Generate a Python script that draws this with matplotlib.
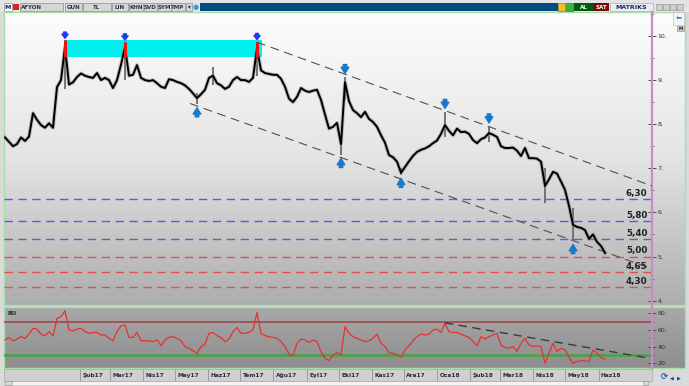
import matplotlib
matplotlib.use("Agg")
import matplotlib.pyplot as plt
import numpy as np
import pandas as pd
from matplotlib.colors import LinearSegmentedColormap
from matplotlib.patches import Rectangle

W, H = 689, 386

# price closes, one value every ~2.6 trading days
close = [7.70, 7.60, 7.50, 7.55, 7.70, 7.62, 7.72, 8.25, 8.10, 7.98,
         7.92, 8.02, 7.92, 8.84, 9.00, 9.75, 8.90, 8.95, 9.07, 9.15,
         9.10, 9.07, 9.05, 9.16, 9.00, 9.05, 9.00, 8.82, 9.00, 9.35,
         9.75, 9.10, 9.12, 9.34, 9.05, 9.00, 8.98, 9.00, 8.93, 8.85,
         8.82, 9.02, 9.00, 8.96, 8.93, 8.88, 8.80, 8.70, 8.59, 8.68,
         8.78, 9.05, 9.10, 8.93, 8.88, 8.80, 8.85, 9.00, 9.07, 9.00,
         9.00, 8.96, 9.05, 9.72, 9.22, 9.16, 9.14, 9.12, 9.12, 9.03,
         8.85, 8.58, 8.50, 8.62, 8.82, 8.76, 8.73, 8.76, 8.78, 8.55,
         8.22, 7.90, 7.94, 8.03, 7.55, 8.95, 8.52, 8.32, 8.25, 8.16,
         8.28, 8.12, 8.05, 7.94, 7.75, 7.58, 7.30, 7.25, 7.15, 6.90,
         7.03, 7.16, 7.28, 7.37, 7.42, 7.45, 7.50, 7.57, 7.63, 7.78,
         7.98, 7.85, 7.75, 7.90, 7.82, 7.83, 7.78, 7.64, 7.57, 7.66,
         7.70, 7.80, 7.76, 7.71, 7.50, 7.46, 7.46, 7.47, 7.40, 7.28,
         7.46, 7.23, 7.23, 7.22, 7.15, 6.60, 6.75, 6.92, 6.88, 6.70,
         6.51, 6.15, 5.72, 5.67, 5.65, 5.60, 5.40, 5.50, 5.33, 5.24,
         5.08]

rsi = [48, 51, 47, 49, 52, 50, 55, 62, 61, 55,
       53, 58, 53, 74, 76, 83, 60, 59, 61, 62,
       58, 56, 57, 57, 54, 54, 50, 47, 58, 65,
       66, 51, 51, 57, 47, 47, 47, 46, 48, 41,
       48, 51, 52, 50, 47, 40, 38, 35, 32, 40,
       43, 56, 57, 53, 51, 46, 49, 58, 63, 56,
       56, 57, 60, 81, 56, 53, 52, 51, 50, 46,
       40, 31, 29, 44, 49, 48, 45, 48, 46, 34,
       26, 23, 30, 33, 30, 64, 56, 52, 50, 48,
       46, 47, 50, 55, 44, 40, 33, 32, 30, 27,
       36, 41, 47, 52, 55, 54, 55, 60, 61, 57,
       68, 58, 57, 57, 55, 53, 51, 46, 41, 52,
       49, 52, 54, 56, 42, 39, 38, 40, 34, 44,
       50, 42, 40, 41, 40, 20, 32, 44, 34, 38,
       36, 27, 20, 22, 23, 23, 22, 36, 32, 27,
       25]

first_day, last_day = "2016-11-23", "2018-06-07"

# bars with visible wicks
wick_idx = [15, 30, 48, 52, 63, 84, 85, 99, 110, 121, 135, 142]
wick_lo = [8.80, 9.00, 8.45, 8.90, 9.10, 7.30, 8.55, 6.85, 7.70, 7.60, 6.21, 5.35]
wick_hi = [9.90, 9.86, 8.70, 9.30, 9.87, 7.70, 9.07, 7.00, 8.28, 7.95, 7.00, 6.10]

peak_idx = [15, 30, 63]
zone_lo, zone_hi = 9.52, 9.91
down_idx = [85, 110, 121]
up_idx = [48, 84, 99, 142]

blue_levels = [6.30, 5.80, 5.40]
red_levels = [5.00, 4.65, 4.30]

upper_x, upper_y = [63, 161.75], [9.86, 6.60]
lower_x, lower_y = [46.25, 161.75], [8.47, 4.72]
rsi_tr_x, rsi_tr_y = [110, 161.25], [68.5, 26.0]

months_tr = ["Oca", "Şub", "Mar", "Nis", "May", "Haz",
             "Tem", "Ağu", "Eyl", "Eki", "Kas", "Ara"]

idx = np.arange(len(close))
dates = pd.date_range(first_day, last_day, periods=len(close))
XL = (-0.25, 161.75)


def fr(x0, y0, x1, y1):
    return [x0 / W, 1 - y1 / H, (x1 - x0) / W, (y1 - y0) / H]


def vlim(ypx):
    return 10 - (ypx - 36) / 44.1


def rlim(ypx):
    return 80 - (ypx - 313.3) / 0.833


fig = plt.figure(figsize=(W / 100, H / 100), dpi=100, facecolor="#dadada")

# ---------- window chrome ----------
ui = fig.add_axes([0, 0, 1, 1])
ui.set_xlim(0, W)
ui.set_ylim(H, 0)
ui.axis("off")

grad = np.linspace(0, 1, 256).reshape(-1, 1)
ui.imshow(grad, cmap=LinearSegmentedColormap.from_list("m", ["#fdfdfd", "#e4e4e4", "#adadad"]),
          extent=(4, 685, 305, 12), origin="upper", aspect="auto")
ui.imshow(grad, cmap=LinearSegmentedColormap.from_list("r", ["#a9a9a9", "#8d8d8d"]),
          extent=(4, 685, 368, 307), origin="upper", aspect="auto")
for y0, y1 in [(12, 305), (307, 368)]:
    ui.add_patch(Rectangle((4, y0), 681, y1 - y0, fill=False, ec="#a6e0a6", lw=1))

# toolbar
ui.add_patch(Rectangle((0, 0), W, 12, fc="#e4e4e4", ec="none"))
ui.add_patch(Rectangle((200, 3), 358, 8, fc="#004c7f", ec="none"))
ui.add_patch(Rectangle((4, 3), 8, 8, fc="white", ec="#909090", lw=0.5))
ui.text(8, 7.3, "M", ha="center", va="center", fontsize=4.5, fontweight="bold", color="#102060")
ui.add_patch(Rectangle((13, 4), 6, 6, fc="#e02020", ec="none"))
tool_boxes = [("AFYON", 20, 63), ("GUN", 65, 82), ("TL", 83, 111), ("LIN", 112, 128),
              ("KHN", 129, 143), ("SVD", 144, 157), ("SYM", 158, 171), ("TMP", 171, 185)]
for name, x0, x1 in tool_boxes:
    ui.add_patch(Rectangle((x0, 3), x1 - x0, 8, fc="#d6d6d6", ec="#8c8c8c", lw=0.5))
    ui.text((x0 + x1) / 2 if name != "AFYON" else x0 + 1, 7.3, name,
            ha="center" if name != "AFYON" else "left", va="center",
            fontsize=4, fontweight="bold", color="#303050")
ui.add_patch(Rectangle((186, 3), 6, 8, fc="#d6d6d6", ec="#8c8c8c", lw=0.5))
ui.text(189, 7, "▾", ha="center", va="center", fontsize=4, color="#202020")
ui.text(195.5, 7, "●", ha="center", va="center", fontsize=5, color="#30a0e0")
ui.add_patch(Rectangle((558, 3), 7, 8, fc="#f0c020", ec="#806010", lw=0.4))
ui.add_patch(Rectangle((566, 3), 7, 8, fc="#40b040", ec="#206020", lw=0.4))
ui.add_patch(Rectangle((574, 3), 19, 8, fc="#005a10", ec="none"))
ui.text(583.5, 7.3, "AL", ha="center", va="center", fontsize=4, fontweight="bold", color="white")
ui.add_patch(Rectangle((593, 3), 16, 8, fc="#7a0a0a", ec="none"))
ui.text(601, 7.3, "SAT", ha="center", va="center", fontsize=4, fontweight="bold", color="white")
ui.add_patch(Rectangle((610, 3), 43, 8, fc="#ececf4", ec="#a0a0a0", lw=0.4))
ui.text(631.5, 7.3, "MATRIKS", ha="center", va="center", fontsize=4.5, fontweight="bold", color="#202070")
for x0 in [656, 663, 670, 677]:
    ui.add_patch(Rectangle((x0, 4), 6, 6, fc="#cfcfcf", ec="#8a8a8a", lw=0.4))

# side buttons at the top right
ui.add_patch(Rectangle((673, 12), 11, 13, fc="#f4f4f4", ec="#b0b0b0", lw=0.4))
ui.text(678.5, 18.5, "⬅", ha="center", va="center", fontsize=5, color="#2080d0")
ui.add_patch(Rectangle((677, 26), 7, 5, fc="#d0d0d0", ec="#808080", lw=0.4))
ui.text(680.5, 28.7, "M", ha="center", va="center", fontsize=3.2, fontweight="bold", color="#202020")

# bottom scrollbar + icons
ui.add_patch(Rectangle((4, 381), 640, 4, fc="#f4f4f4", ec="#c0c0c0", lw=0.4))
ui.add_patch(Rectangle((5, 381), 7, 4, fc="#d8d8d8", ec="#909090", lw=0.4))
ui.add_patch(Rectangle((643, 381), 5, 4, fc="#d8d8d8", ec="#909090", lw=0.4))
ui.text(664, 377, "⟳", ha="center", va="center", fontsize=6, color="#1050c0", fontweight="bold")
ui.text(672, 378, "◀", ha="center", va="center", fontsize=3.5, color="#1040a0")
ui.text(679, 378, "▶", ha="center", va="center", fontsize=3.5, color="#1040a0")

# ---------- price panel ----------
ax = fig.add_axes(fr(4, 12, 652, 305))
ax.patch.set_visible(False)
ax.set_xlim(*XL)
ax.set_ylim(vlim(305), vlim(12))

ax.add_patch(Rectangle((peak_idx[0], zone_lo), peak_idx[-1] + 1.3 - peak_idx[0],
                       zone_hi - zone_lo, fc="#00f0f0", ec="none", zorder=1))

for lvl in blue_levels:
    ax.axhline(lvl, color="#5a5ae6", lw=1, ls=(0, (6, 4)), zorder=2)
for lvl in red_levels:
    ax.axhline(lvl, color="#e05050", lw=1, ls=(0, (6, 4)), zorder=2)
for lvl in blue_levels + red_levels:
    ax.text(0.993, lvl + 0.03, f"{lvl:.2f}".replace(".", ","), transform=ax.get_yaxis_transform(),
            ha="right", va="bottom", fontsize=6.3, fontweight="bold", color="#202020", zorder=5)

ax.plot(upper_x, upper_y, color="#505050", lw=0.8, ls=(0, (8, 5)), zorder=3)
ax.plot(lower_x, lower_y, color="#505050", lw=0.8, ls=(0, (8, 5)), zorder=3)

ax.vlines(wick_idx, wick_lo, wick_hi, color="#6a6a6a", lw=1.3, zorder=3)
ax.plot(idx, close, color="#8a8a8a", lw=2.8, alpha=0.5, zorder=3)
ax.plot(idx, close, color="black", lw=1.4, zorder=4)
peak_hi = [wick_hi[wick_idx.index(i)] for i in peak_idx]
ax.vlines(peak_idx, zone_lo, peak_hi, color="#f01010", lw=2.2, zorder=5)


def arrow(i, val, up, color, hw, hl, tw, length, gap):
    off = -(gap + length) if up else (gap + length)
    ax.annotate("", xy=(i, val), xytext=(0, off), textcoords="offset points",
                arrowprops=dict(arrowstyle=f"simple,head_width={hw},head_length={hl},tail_width={tw}",
                                color=color, shrinkA=0, shrinkB=gap, mutation_scale=10), zorder=6)


for i in peak_idx:
    arrow(i, wick_hi[wick_idx.index(i)], False, "#1c3cf0", 0.45, 0.3, 0.2, 4.5, 1.5)
for i in down_idx:
    hi = wick_hi[wick_idx.index(i)] if i in wick_idx else close[i]
    arrow(i, hi, False, "#1a78c8", 0.55, 0.45, 0.25, 6.5, 2.5)
for i in up_idx:
    lo = wick_lo[wick_idx.index(i)] if i in wick_idx else close[i]
    arrow(i, lo, True, "#1a78c8", 0.55, 0.45, 0.25, 6.5, 2.5)

# ---------- RSI panel ----------
ax2 = fig.add_axes(fr(4, 307, 652, 368))
ax2.patch.set_visible(False)
ax2.set_xlim(*XL)
ax2.set_ylim(rlim(368), rlim(307))
ax2.axhline(70, color="#a04848", lw=1.2)
ax2.axhline(30, color="#4f9f4f", lw=2)
ax2.plot(idx, rsi, color="#e83030", lw=0.9)
ax2.plot(rsi_tr_x, rsi_tr_y, color="#3a3a3a", lw=1, ls=(0, (6, 4)))
ax2.text(0.005, 0.93, "RSI", transform=ax2.transAxes, fontsize=3.5, fontweight="bold",
         color="#202020", va="top")

for a, major, minor in [(ax, np.arange(4, 11), np.arange(4.5, 10.6, 0.5)),
                        (ax2, [20, 40, 60, 80], [30, 50, 70])]:
    a.set_xticks([])
    a.yaxis.tick_right()
    a.set_yticks(major)
    a.set_yticklabels([f"{int(t)}." for t in major])
    a.set_yticks(minor, minor=True)
    a.tick_params(axis="y", which="major", direction="inout", length=6, width=0.7,
                  color="#505050", labelsize=4.5, labelcolor="#303030", pad=1)
    a.tick_params(axis="y", which="minor", direction="inout", length=3, width=0.6, color="#606060")
    for s in ["left", "top", "bottom"]:
        a.spines[s].set_visible(False)
    a.spines["right"].set_color("#c88cc8")
    a.spines["right"].set_linewidth(1.6)

# ---------- date strip ----------
ax3 = fig.add_axes(fr(4, 369, 652, 381))
ax3.set_xlim(*XL)
ax3.set_ylim(0, 1)
ax3.set_facecolor("#d0d0d0")
ax3.set_xticks([])
ax3.set_yticks([])
for s in ax3.spines.values():
    s.set_color("#a8a8a8")
    s.set_linewidth(0.5)
month_starts = pd.date_range("2017-01-01", "2018-06-01", freq="MS")
month_pos = np.interp(month_starts.asi8, dates.asi8, idx)
for d, p in zip(month_starts, month_pos):
    if p < 17:  # hidden under the cursor info box
        continue
    ax3.axvline(p, color="#9c9c9c", lw=0.7)
    ax3.text(p + 0.6, 0.45, f"{months_tr[d.month - 1]}{d.year % 100}", fontsize=4.2,
             fontweight="bold", color="#2a2a40", va="center", ha="left")
ui.add_patch(Rectangle((4, 369.5), 64, 10.5, fc="white", ec="#303030", lw=0.6, zorder=5))
ui.text(6, 375, "5,06 - 5 - 14:49:46", fontsize=4.6, fontweight="bold", color="black",
        va="center", ha="left", zorder=6)

fig.savefig("out.png", dpi=100, facecolor=fig.get_facecolor())
